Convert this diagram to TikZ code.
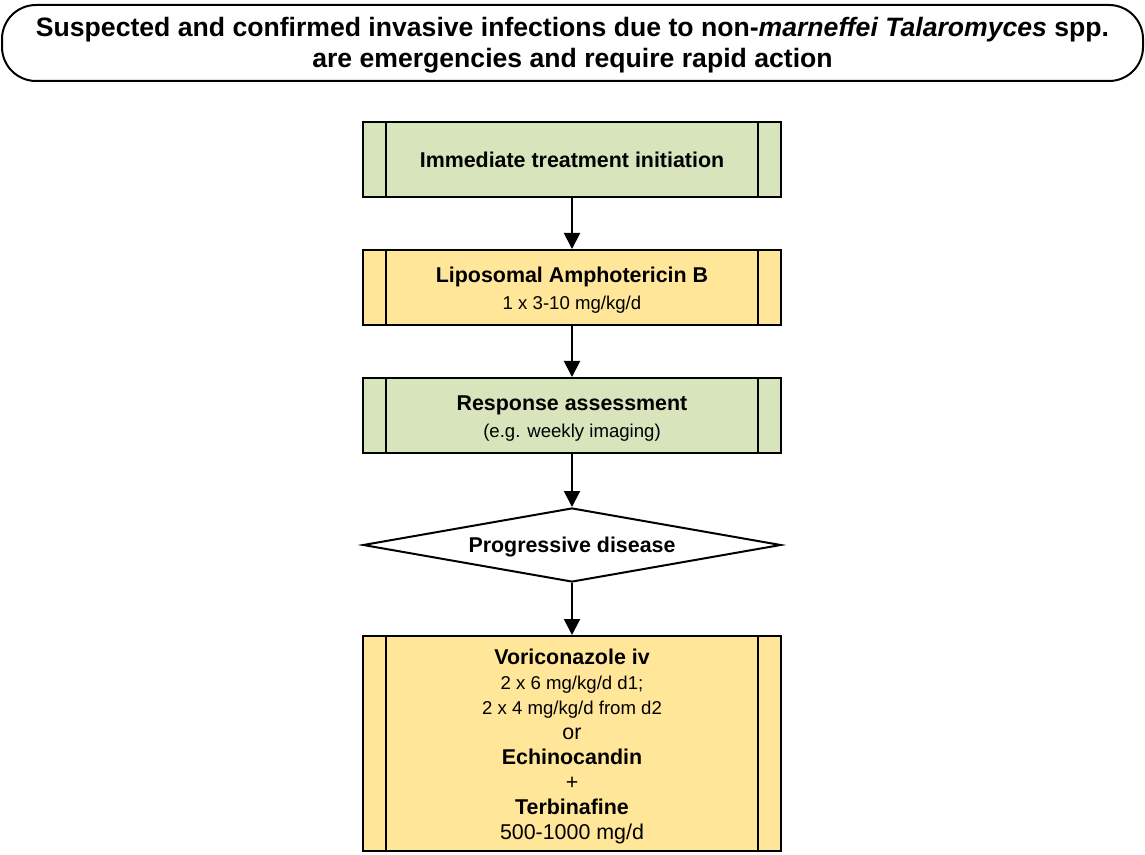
\documentclass[tikz,border=0pt]{standalone}
\usepackage{fontspec}
\setmainfont{Liberation Sans}
\usetikzlibrary{arrows.meta,shapes.geometric}
\definecolor{boxgreen}{HTML}{D8E4BC}
\definecolor{boxyellow}{HTML}{FFE699}
\newcommand{\lowerstrut}{\rule{0pt}{10.9pt}}
\newcommand{\bannerstrut}{\rule{0pt}{12.2pt}}
\begin{document}
\begin{tikzpicture}[x=0.5pt,y=-0.5pt,
  stepbox/.style={draw=black, line width=1pt, minimum width=209pt, minimum height=37.5pt,
    inner sep=0pt, align=center,
    font=\fontsize{10.7}{13.5}\selectfont,
    path picture={
      \draw[line width=1pt] ([xshift=11.5pt]path picture bounding box.north west) -- ([xshift=11.5pt]path picture bounding box.south west);
      \draw[line width=1pt] ([xshift=-11.5pt]path picture bounding box.north east) -- ([xshift=-11.5pt]path picture bounding box.south east);}},
  greenbox/.style={stepbox, fill=boxgreen},
  yellowbox/.style={stepbox, fill=boxyellow},
  decision/.style={diamond, draw=black, line width=1pt, fill=white, aspect=5.6,
    minimum width=209pt, minimum height=37pt, inner sep=0pt,
    text height=9.8pt, text depth=2.3pt,
    font=\bfseries\fontsize{10.7}{13.5}\selectfont},
  banner/.style={draw=black, line width=1pt, rounded corners=17pt,
    minimum width=570.5pt, minimum height=38pt, inner sep=0pt, align=center,
    font=\bfseries\fontsize{13.3}{15.5}\selectfont},
  arr/.style={line width=1pt, -{Triangle[length=8pt,width=8pt]}}
]
\useasboundingbox (0,0) rectangle (1145,855);

\node[banner] (title) at (572.5,43)
  {\bannerstrut Suspected and confirmed invasive infections due to non-\textit{marneffei Talaromyces} spp.\\
   are emergencies and require rapid action};

\node[greenbox] (start) at (572,159.5) {\bfseries Immediate treatment initiation};

\node[yellowbox] (amb) at (572,287.5)
  {{\lowerstrut\bfseries Liposomal Amphotericin B}\\
   {\fontsize{9.3}{13.5}\selectfont 1 x 3-10 mg/kg/d}};

\node[greenbox] (resp) at (572,415.5)
  {{\lowerstrut\bfseries Response assessment}\\
   {\fontsize{9.3}{13.5}\selectfont (e.g. weekly imaging)}};

\node[decision] (prog) at (572,545) {Progressive disease};

\node[yellowbox, minimum height=107.5pt, font=\fontsize{10.7}{12.5}\selectfont] (salv) at (572,743.5)
  {{\lowerstrut\bfseries Voriconazole iv}\\
   {\fontsize{9.3}{12.5}\selectfont 2 x 6 mg/kg/d d1;}\\
   {\fontsize{9.3}{12.5}\selectfont 2 x 4 mg/kg/d from d2}\\
   or\\
   {\bfseries Echinocandin}\\
   +\\
   {\bfseries Terbinafine}\\
   500-1000 mg/d};

\draw[arr] (start) -- (amb);
\draw[arr] (amb) -- (resp);
\draw[arr] (resp) -- (prog);
\draw[arr] (prog) -- (salv);
\end{tikzpicture}
\end{document}
